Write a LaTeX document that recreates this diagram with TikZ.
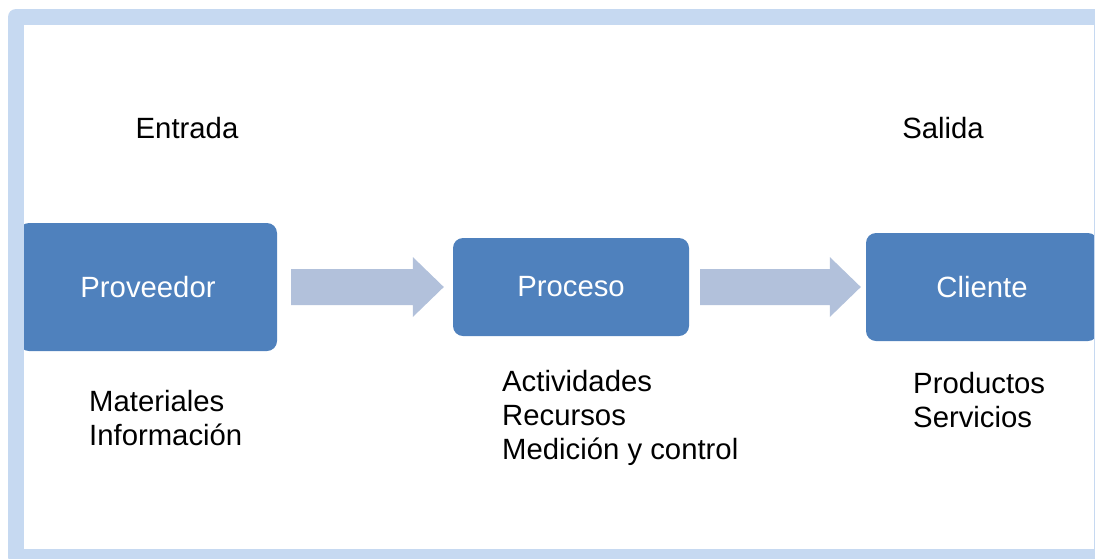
\documentclass[tikz,border=0pt]{standalone}
\usepackage{fontspec}
\setmainfont{Liberation Sans}
\usetikzlibrary{positioning, calc}
\definecolor{mMarco}{HTML}{C6D9F1}
\definecolor{mCaja}{HTML}{4F81BD}
\definecolor{mFlecha}{HTML}{B2C1DB}
\newcommand{\letra}{\fontsize{29.3}{34.3}\selectfont}
\tikzset{
  caja/.style={fill=mCaja, rounded corners=10pt, inner sep=0pt,
               text=white, font=\letra},
  etiq/.style={inner sep=0pt, align=left, font=\letra},
  flecha/.style={fill=mFlecha},
  marco/.style={draw=mMarco, line width=16pt, line join=round},
}
% block arrow from #1 to #2 (tip at #2)
\newcommand{\bloque}[2]{%
  \fill[flecha] ($(#1)+(0,-18)$) -- ($(#2)+(-31,-18)$) -- ($(#2)+(-31,-30)$)
    -- (#2) -- ($(#2)+(-31,30)$) -- ($(#2)+(-31,18)$) -- ($(#1)+(0,18)$) -- cycle;}

\begin{document}
\begin{tikzpicture}[x=1pt, y=-1pt]
    \useasboundingbox (0,0) rectangle (1095,558);
    \clip (0,0) rectangle (1095,558);
    \node[caja, minimum width=258pt, minimum height=128pt] (prov) at (148,287) {Proveedor};
    \node[caja, minimum width=236pt, minimum height=98pt]  (proc) at (571,287) {Proceso};
    \node[caja, minimum width=232pt, minimum height=108pt] (cli)  at (982,287) {Cliente};
    \coordinate (a1) at ($(prov.east)+(14,0)$);
    \coordinate (b1) at ($(proc.west)+(-9,0)$);
    \coordinate (a2) at ($(proc.east)+(11,0)$);
    \coordinate (b2) at ($(cli.west)+(-5,0)$);
    \bloque{a1}{b1}
    \bloque{a2}{b2}
    \node[etiq] (ent) at (187,128) {Entrada};
    \node[etiq] (sal) at (943,128) {Salida};
    \node[etiq, anchor=west] (mat) at (89,418) {Materiales\\Información};
    \node[etiq, anchor=west] (act) at (502,418) {Actividades\\Recursos\\Medición y control};
    \node[etiq, anchor=west] (pro) at (913,400) {Productos\\Servicios};
    \draw[marco] (16,17) rectangle (1102,557);
  \end{tikzpicture}
\end{document}
